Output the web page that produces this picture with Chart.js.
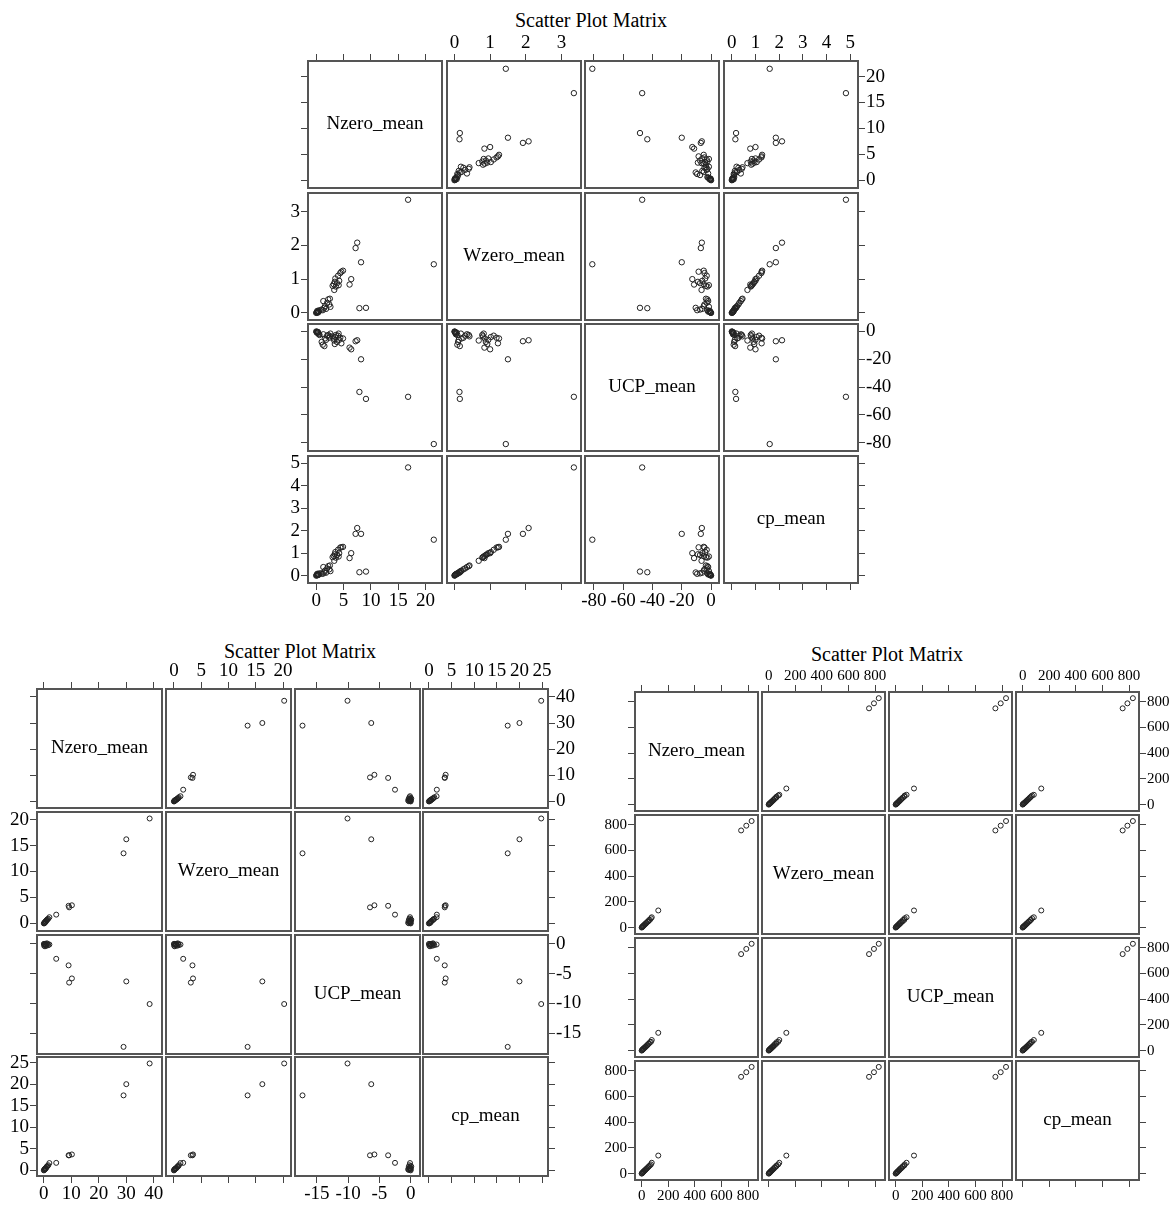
<!DOCTYPE html>
<html>
<head>
<meta charset="utf-8">
<script src="https://cdn.jsdelivr.net/npm/chart.js@4.4.1/dist/chart.umd.min.js"></script>
<style>
  body { margin: 0; background: #fff; width: 1171px; height: 1206px; position: relative; overflow: hidden; font-family: "Liberation Serif", "DejaVu Serif", serif; }
  .title { position: absolute; transform: translate(-50%, -50%); white-space: nowrap; color: #000; }
  canvas { position: absolute; }
</style>
</head>
<body>
<script>
/* 散点矩阵 ×3 — 각 패널을 Chart.js scatter 로 그린다 */

const varNames = ['Nzero_mean', 'Wzero_mean', 'UCP_mean', 'cp_mean'];

// ---- top matrix
const topNzero = [21.5, 16.8, 7.9, 9.1, 8.2, 7.2, 7.5, 6.1, 6.4,
  3.0, 3.2, 3.3, 3.5, 3.6, 3.8, 4.0, 4.2, 4.4, 4.6, 4.9, 4.1, 3.4,
  1.0, 1.2, 1.5, 1.8, 2.0, 2.2, 2.4, 1.6, 2.5, 1.3, 2.6,
  0.1, 0.2, 0.3, 0.4, 0.5, 0.2, 0.0, 0.3, 0.6, 0.1];
const topWzero = [1.44, 3.35, 0.14, 0.15, 1.50, 1.92, 2.08, 0.84, 1.00,
  0.80, 0.85, 0.68, 1.02, 0.78, 0.88, 1.10, 0.95, 1.18, 1.22, 1.25, 0.82, 0.92,
  0.10, 0.08, 0.15, 0.12, 0.30, 0.40, 0.25, 0.20, 0.42, 0.35, 0.18,
  0.02, 0.03, 0.01, 0.05, 0.04, 0.06, 0.00, 0.02, 0.08, 0.01];
const topUcp = [-81, -47, -43.5, -48.5, -20, -7, -6.3, -11.6, -12.8,
  -3.5, -5.0, -6.5, -4.0, -2.5, -7.5, -3.0, -6.0, -4.5, -8.5, -5.0, -1.5, -9.0,
  -7.5, -9.5, -10.5, -6.0, -3.0, -2.5, -4.5, -5.0, -3.5, -2.0, -1.5,
  -0.5, -1.0, -0.3, -1.5, -2.0, -0.8, 0.0, -0.6, -2.5, -0.2];
const topCp = [1.60, 4.82, 0.15, 0.18, 1.86, 1.86, 2.12, 0.78, 1.00,
  0.82, 0.88, 0.66, 1.05, 0.80, 0.92, 1.15, 1.00, 1.25, 1.26, 1.28, 0.85, 0.95,
  0.10, 0.08, 0.14, 0.13, 0.32, 0.42, 0.28, 0.22, 0.45, 0.38, 0.20,
  0.03, 0.05, 0.02, 0.06, 0.05, 0.08, 0.00, 0.03, 0.10, 0.01];
const topTicks = [[0, 5, 10, 15, 20], [0, 1, 2, 3], [-80, -60, -40, -20, 0], [0, 1, 2, 3, 4, 5]];
const topRanges = [[-1.5, 23], [-0.21, 3.55], [-86, 5.4], [-0.33, 5.33]];

// ---- bottom-left matrix
const blNzero = [38.5, 30.0, 29.0, 10.2, 9.2, 9.0, 4.5,
  2.0, 1.6, 1.3, 1.0, 0.8, 0.6, 0.5, 0.3, 0.2, 0.1, 0.0, 0.4, 0.7, 1.1];
const blWzero = [20.2, 16.2, 13.5, 3.5, 3.1, 3.4, 1.7,
  1.2, 0.9, 0.8, 0.6, 0.5, 0.4, 0.3, 0.2, 0.1, 0.05, 0.0, 0.15, 0.35, 0.7];
const blUcp = [-10.1, -6.3, -17.3, -5.8, -6.5, -3.6, -2.5,
  -0.1, -0.2, 0.0, -0.3, -0.1, 0.0, -0.2, -0.1, 0.0, -0.3, 0.0, -0.4, -0.05, 0.1];
const blCp = [24.8, 20.0, 17.4, 3.7, 3.5, 3.5, 1.75,
  1.7, 1.2, 1.0, 0.8, 0.6, 0.5, 0.4, 0.3, 0.2, 0.1, 0.0, 0.25, 0.45, 0.9];
const blTicks = [[0, 10, 20, 30, 40], [0, 5, 10, 15, 20], [-15, -10, -5, 0], [0, 5, 10, 15, 20, 25]];
const blRanges = [[-2.5, 43], [-1.45, 21.45], [-18.5, 1.5], [-1.3, 26.3]];

// ---- bottom-right matrix
const brNzero = [0, 2, 5, 8, 10, 13, 16, 20, 24, 28, 33, 38, 44, 50, 55, 62, 70, 76, 125, 748, 787, 827];
const brWzero = [0, 3, 4, 9, 11, 12, 18, 19, 26, 27, 35, 37, 46, 48, 58, 60, 72, 80, 133, 755, 792, 828];
const brUcp = [0, 2, 6, 7, 12, 14, 15, 22, 23, 30, 31, 40, 42, 52, 54, 65, 68, 82, 138, 750, 790, 830];
const brCp = [0, 1, 5, 8, 10, 14, 17, 21, 25, 29, 34, 39, 45, 51, 57, 63, 71, 84, 140, 752, 788, 829];
const brTickVals = [0, 200, 400, 600, 800];
const brTicks = [brTickVals, brTickVals, brTickVals, brTickVals];
const brRanges = [[-50, 875], [-50, 875], [-50, 875], [-50, 875]];

const SERIF = '"Liberation Serif", "DejaVu Serif", serif';
const PAD_X = 52;
const PAD_Y = 40;

// 대각선 패널에 변수 이름
const diagLabel = {
  id: 'diagLabel',
  afterDraw(chart, args, opts) {
    if (!opts.text) return;
    const { ctx, chartArea: a } = chart;
    ctx.save();
    ctx.font = `${opts.size}px ${SERIF}`;
    ctx.fillStyle = '#000';
    ctx.textAlign = 'center';
    ctx.textBaseline = 'middle';
    ctx.fillText(opts.text, (a.left + a.right) / 2, (a.top + a.bottom) / 2);
    ctx.restore();
  },
};

function axisOpts(pos, range, ticks, showMarks, showLabels, fontSize) {
  const horiz = pos === 'top' || pos === 'bottom';
  return {
    type: 'linear',
    axis: horiz ? 'x' : 'y',
    position: pos,
    min: range[0],
    max: range[1],
    offset: false,
    afterBuildTicks: (s) => { s.ticks = ticks.map((v) => ({ value: v })); },
    afterFit: (s) => { if (horiz) s.height = PAD_Y; else s.width = PAD_X; },
    grid: { display: showMarks, drawOnChartArea: false, drawTicks: true, tickLength: 7, color: '#444', lineWidth: 1 },
    border: { display: true, color: '#555', width: 2 },
    ticks: { display: showLabels, autoSkip: false, maxRotation: 0, padding: horiz ? 0 : 1, color: '#000', font: { family: SERIF, size: fontSize } },
  };
}

function drawMatrix(m) {
  const title = document.createElement('div');
  title.className = 'title';
  title.textContent = 'Scatter Plot Matrix';
  title.style.left = m.titleX + 'px';
  title.style.top = m.titleY + 'px';
  title.style.fontSize = m.titleSize + 'px';
  document.body.appendChild(title);

  for (let r = 0; r < 4; r++) {
    for (let c = 0; c < 4; c++) {
      const x0 = Math.round(m.left + c * (m.cellW + m.gap));
      const y0 = Math.round(m.top + r * (m.cellH + m.gap));
      const cv = document.createElement('canvas');
      cv.width = m.cellW + 2 * PAD_X;
      cv.height = m.cellH + 2 * PAD_Y;
      cv.style.left = (x0 - PAD_X) + 'px';
      cv.style.top = (y0 - PAD_Y) + 'px';
      document.body.appendChild(cv);

      const xs = m.vars[c];
      const ys = m.vars[r];
      const pts = r === c ? [] : xs.map((v, i) => ({ x: v, y: ys[i] }));

      new Chart(cv.getContext('2d'), {
        type: 'scatter',
        data: {
          datasets: [{
            data: pts,
            pointStyle: 'circle',
            pointRadius: m.pointR,
            pointBorderWidth: 1,
            pointBorderColor: '#222',
            pointBackgroundColor: 'rgba(0,0,0,0)',
            showLine: false,
          }],
        },
        options: {
          responsive: false,
          animation: false,
          devicePixelRatio: 1,
          events: [],
          layout: { padding: 0, autoPadding: false },
          plugins: {
            legend: { display: false },
            tooltip: { enabled: false },
            diagLabel: { text: r === c ? varNames[r] : '', size: m.labelSize },
          },
          scales: {
            x: axisOpts('bottom', m.ranges[c], m.ticks[c], r === 3, r === 3 && c % 2 === 0, m.tickSize),
            x2: axisOpts('top', m.ranges[c], m.ticks[c], r === 0, r === 0 && c % 2 === 1, m.tickSize),
            y: axisOpts('left', m.ranges[r], m.ticks[r], c === 0, c === 0 && r % 2 === 1, m.tickSize),
            y2: axisOpts('right', m.ranges[r], m.ticks[r], c === 3, c === 3 && r % 2 === 0, m.tickSize),
          },
        },
        plugins: [diagLabel],
      });
    }
  }
}

drawMatrix({
  left: 308, top: 61, cellW: 134, cellH: 127, gap: 4.5,
  vars: [topNzero, topWzero, topUcp, topCp], ticks: topTicks, ranges: topRanges,
  titleX: 591, titleY: 20, titleSize: 20, tickSize: 19, labelSize: 19, pointR: 2.7,
});

drawMatrix({
  left: 37, top: 689, cellW: 125, cellH: 119, gap: 3.8,
  vars: [blNzero, blWzero, blUcp, blCp], ticks: blTicks, ranges: blRanges,
  titleX: 300, titleY: 651, titleSize: 20, tickSize: 19, labelSize: 19, pointR: 2.5,
});

drawMatrix({
  left: 635, top: 692, cellW: 123, cellH: 119, gap: 4,
  vars: [brNzero, brWzero, brUcp, brCp], ticks: brTicks, ranges: brRanges,
  titleX: 887, titleY: 654, titleSize: 20, tickSize: 15, labelSize: 19, pointR: 2.5,
});
</script>
</body>
</html>
